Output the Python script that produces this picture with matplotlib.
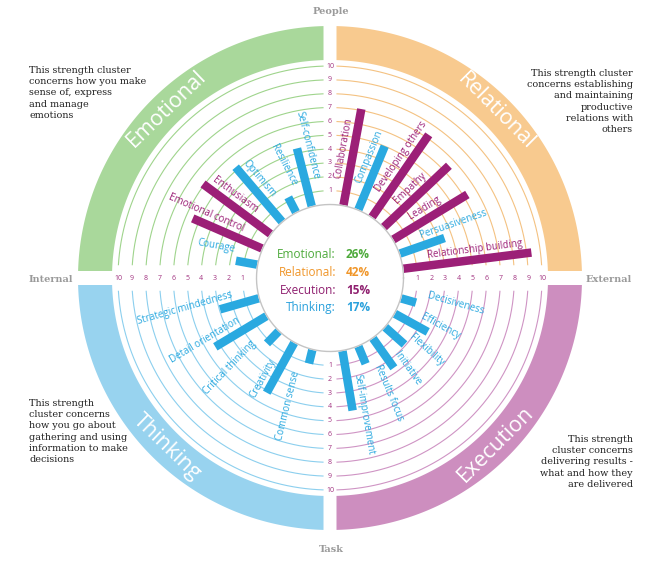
import numpy as np
import matplotlib
matplotlib.use("Agg")
import matplotlib.pyplot as plt
from matplotlib.transforms import ScaledTranslation

# ---------------- data ----------------
clusters = ["Emotional", "Relational", "Execution", "Thinking"]
cluster_share = [26, 42, 15, 17]

emotional_strengths = ["Self-confidence", "Resilience", "Optimism", "Enthusiasm",
                       "Emotional control", "Courage"]
emotional_scores = [4.35, 1.25, 5.2, 6.1, 5.5, 1.6]
emotional_highlight = [False, False, False, True, True, False]

relational_strengths = ["Collaboration", "Compassion", "Developing others", "Empathy",
                        "Leading", "Persuasiveness", "Relationship building"]
relational_scores = [7.1, 5.0, 7.25, 6.5, 6.3, 3.45, 9.35]
relational_highlight = [True, False, True, True, True, False, True]

execution_strengths = ["Decisiveness", "Efficiency", "Flexibility", "Initiative",
                       "Results focus", "Self-improvement"]
execution_scores = [1.15, 2.75, 1.9, 2.65, 1.4, 4.4]
execution_highlight = [False, False, False, False, False, False]

thinking_strengths = ["Strategic mindedness", "Detail orientation", "Critical thinking",
                      "Creativity", "Common sense"]
thinking_scores = [2.95, 4.35, 1.25, 4.15, 1.05]
thinking_highlight = [False, False, False, False, False]

ring_levels = list(range(1, 11))
axis_names = ["People", "External", "Task", "Internal"]

blurb_emotional = "This strength cluster\nconcerns how you make\nsense of, express\nand manage\nemotions"
blurb_relational = "This strength cluster\nconcerns establishing\nand maintaining\nproductive\nrelations with\nothers"
blurb_thinking = "This strength\ncluster concerns\nhow you go about\ngathering and using\ninformation to make\ndecisions"
blurb_execution = "This strength\ncluster concerns\ndelivering results -\nwhat and how they\nare delivered"

# ---------------- style / layout ----------------
W, H, DPI = 668, 568, 100
CX, CY = 330, 278          # centre of the wheel (px)
R0, S = 73.5, 13.85        # px radius of score 0, px per score unit
R_OUT, R_BAND_IN = 252, 218
GAP_H, GAP_V = 7.0, 6.5    # half widths of the white crosses in the band
RING_GAP_H, RING_GAP_V = 13.3, 7.0

PURPLE = "#9c1f77"
BLUE = "#2aa9e0"
band_colors = {"Emotional": "#a9d89b", "Relational": "#f8ca8f",
               "Execution": "#cd8ebf", "Thinking": "#98d3ef"}
ring_colors = {"Emotional": "#9fd48c", "Relational": "#f4c282",
               "Execution": "#cf94c4", "Thinking": "#8ccfee"}
share_colors = {"Emotional": "#4eaa3c", "Relational": "#f0962a",
                "Execution": "#8f1f6f", "Thinking": "#2aa1dc"}
quad_span = {"Relational": (0, 90), "Emotional": (90, 180),
             "Thinking": (180, 270), "Execution": (270, 360)}
bar_layout = {"Emotional": (104.3, 13.06), "Relational": (79.5, -12.05),
              "Execution": (-16.0, -12.86), "Thinking": (195.9, 15.07)}
title_angle = {"Emotional": 134, "Relational": 45, "Execution": -45, "Thinking": 226}

BAR_W_PX = 8.5
LABEL_R_PX = 99

SANS = "Open Sans"
SERIF = "DejaVu Serif"

fig = plt.figure(figsize=(W / DPI, H / DPI), dpi=DPI)
fig.patch.set_facecolor("white")

# polar axes for the wheel
pax = fig.add_axes([(CX - R_OUT) / W, (H - CY - R_OUT) / H, 2 * R_OUT / W, 2 * R_OUT / H],
                   projection="polar", zorder=1)
rmax = (R_OUT - R0) / S
pax.set_rlim(0, rmax)
pax.set_rorigin(-R0 / S)
pax.axis("off")
pax.patch.set_alpha(0)


def to_r(px):
    return (px - R0) / S


def edge_angle(base, px, half):
    return base + np.degrees(np.arcsin(half / px))


# ---- coloured bands ----
for name in clusters:
    a0, a1 = quad_span[name]
    radii = np.linspace(R_BAND_IN, R_OUT, 20)
    g0 = GAP_H if a0 % 180 == 0 else GAP_V
    g1 = GAP_H if a1 % 180 == 0 else GAP_V
    th_outer = np.linspace(edge_angle(a0, R_OUT, g0), edge_angle(a1, R_OUT, -g1), 200)
    th_edge1 = np.array([edge_angle(a1, p, -g1) for p in radii[::-1]])
    th_inner = np.linspace(edge_angle(a1, R_BAND_IN, -g1), edge_angle(a0, R_BAND_IN, g0), 200)
    th_edge0 = np.array([edge_angle(a0, p, g0) for p in radii])
    th = np.concatenate([th_outer, th_edge1, th_inner, th_edge0])
    rr = np.concatenate([np.full(200, to_r(R_OUT)), to_r(radii[::-1]),
                         np.full(200, to_r(R_BAND_IN)), to_r(radii)])
    pax.fill(np.radians(th), rr, color=band_colors[name], lw=0, clip_on=False, zorder=1)
    ta = title_angle[name]
    rot = ta - 90 if np.sin(np.radians(ta)) > 0 else ta + 90
    rot = (rot + 180) % 360 - 180
    pax.text(np.radians(ta), to_r((R_BAND_IN + R_OUT) / 2), name, color="white",
             fontsize=15.5, family=SANS, rotation=rot, rotation_mode="anchor",
             ha="center", va="center", zorder=3)

# ---- rings ----
for name in clusters:
    a0, a1 = quad_span[name]
    for k in ring_levels:
        px = R0 + S * k
        g0 = RING_GAP_H if a0 % 180 == 0 else RING_GAP_V
        g1 = RING_GAP_H if a1 % 180 == 0 else RING_GAP_V
        s = edge_angle(a0, px, g0)
        e = edge_angle(a1, px, -g1)
        th = np.radians(np.linspace(s, e, 200))
        pax.plot(th, np.full_like(th, k), color=ring_colors[name], lw=0.8,
                 clip_on=False, zorder=2)

# ring numbers on the four axes
for k in ring_levels:
    for ang in (0, 90, 180, 270):
        pax.text(np.radians(ang), k, str(k), color="#a0307f", fontsize=5, family=SANS,
                 ha="center", va="center", zorder=3)

# ---- bars + labels ----
cluster_data = {
    "Emotional": (emotional_strengths, emotional_scores, emotional_highlight),
    "Relational": (relational_strengths, relational_scores, relational_highlight),
    "Execution": (execution_strengths, execution_scores, execution_highlight),
    "Thinking": (thinking_strengths, thinking_scores, thinking_highlight),
}
bar_lw = BAR_W_PX * 72 / DPI
for name in clusters:
    labels, scores, hl = cluster_data[name]
    first, step = bar_layout[name]
    for i, (lab, val, h) in enumerate(zip(labels, scores, hl)):
        ang = first + i * step
        th = np.radians(ang)
        col = PURPLE if h else BLUE
        pax.plot([th, th], [0, val], color=col, lw=bar_lw, solid_capstyle="butt",
                 clip_on=False, zorder=4)
        if np.cos(th) > 0:
            rot, ha, up = ang, "left", ang + 90
        else:
            rot, ha, up = ang - 180, "right", ang - 90
        rot = (rot + 180) % 360 - 180
        off = (BAR_W_PX / 2 + 0.8) / DPI
        tr = pax.transData + ScaledTranslation(off * np.cos(np.radians(up)),
                                               off * np.sin(np.radians(up)),
                                               fig.dpi_scale_trans)
        pax.text(th, to_r(LABEL_R_PX), lab, color=col, fontsize=7, family=SANS,
                 rotation=rot, rotation_mode="anchor", ha=ha, va="bottom",
                 transform=tr, zorder=5)

# inner circle
thc = np.linspace(0, 2 * np.pi, 400)
pax.fill(thc, np.zeros_like(thc), color="white", zorder=5, clip_on=False)
pax.plot(thc, np.zeros_like(thc), color="#c4c4c4", lw=1.0, clip_on=False, zorder=6)

# ---- overlay axes in pixel units for free text ----
ax_top = fig.add_axes([0, 0, 1, 1], zorder=3)
ax_top.set_xlim(0, W)
ax_top.set_ylim(H, 0)
ax_top.axis("off")

for i, (name, share) in enumerate(zip(clusters, cluster_share)):
    y = 255 + 17.5 * i
    ax_top.text(336, y, f"{name}:", color=share_colors[name], fontsize=8.5, family=SANS,
                ha="right", va="center")
    ax_top.text(346, y, f"{share}%", color=share_colors[name], fontsize=8.5, family=SANS,
                fontweight="bold", ha="left", va="center")

axis_pos = [(331, 12), (609, 280), (331, 549), (51, 280)]
for nm, (x, y) in zip(axis_names, axis_pos):
    ax_top.text(x, y, nm, color="#9a9a9a", fontsize=7, family=SERIF, fontweight="bold",
                ha="center", va="center")

blurb_style = dict(color="#222222", fontsize=6.9, family=SERIF, linespacing=1.32, va="top")
ax_top.text(29, 66, blurb_emotional, ha="left", multialignment="left", **blurb_style)
ax_top.text(633, 69, blurb_relational, ha="right", multialignment="right", **blurb_style)
ax_top.text(29, 399, blurb_thinking, ha="left", multialignment="left", **blurb_style)
ax_top.text(633, 435, blurb_execution, ha="right", multialignment="right", **blurb_style)

fig.savefig("out.png", dpi=DPI, facecolor="white")
